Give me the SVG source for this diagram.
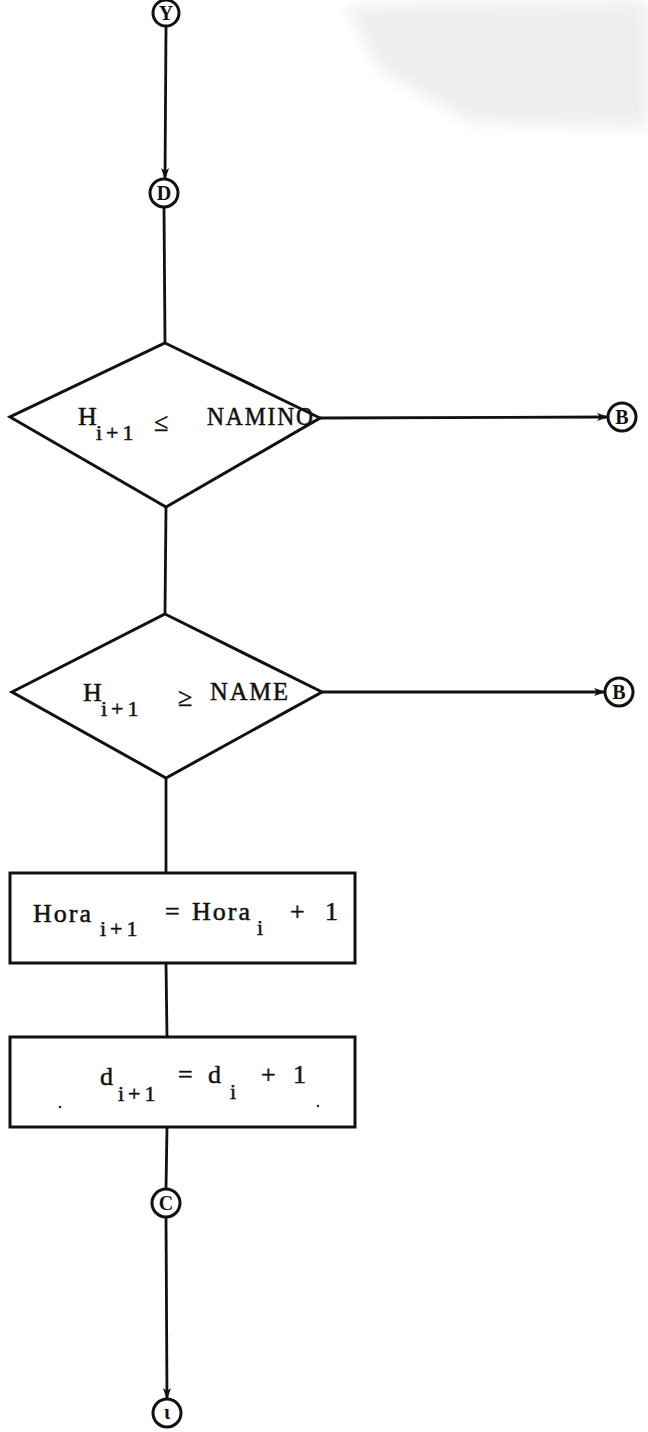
<svg xmlns="http://www.w3.org/2000/svg" width="648" height="1432" viewBox="0 0 648 1432">
  <defs>
    <marker id="arrow" viewBox="0 0 12 10" refX="11" refY="5" markerWidth="13" markerHeight="10" markerUnits="userSpaceOnUse" orient="auto">
      <path d="M0,1 L12,5 L0,9 L3,5 Z" fill="#111"/>
    </marker>
    <filter id="soft" x="-10%" y="-10%" width="120%" height="120%">
      <feGaussianBlur stdDeviation="8"/>
    </filter>
  </defs>
  <style>
    .shape { fill: #fff; stroke: #111; stroke-width: 3; stroke-linejoin: miter; }
    .conn { fill: none; stroke: #111; stroke-width: 2.8; }
    .lbl { font-family: "Liberation Serif", "DejaVu Serif", serif; fill: #111; stroke: #111; stroke-width: 0.5; letter-spacing: 2px; }
    .big { font-size: 26px; }
    .sub { font-size: 22px; letter-spacing: 4px; }
    .circ { font-family: "Liberation Serif", "DejaVu Serif", serif; font-size: 20px; font-weight: bold; fill: #111; text-anchor: middle; }
    .speck { fill: #222; }
  </style>

  <rect width="648" height="1432" fill="#fff"/>
  <!-- faint paper tone at the top right -->
  <path d="M345,6 L648,0 L648,128 L470,122 L380,70 Z" fill="#eeeeee" filter="url(#soft)"/>

  <!-- connectors -->
  <g id="connectors">
    <line class="conn" x1="166" y1="27" x2="165" y2="179" marker-end="url(#arrow)"/>
    <line class="conn" x1="164" y1="207" x2="165" y2="343"/>
    <line class="conn" x1="320" y1="418" x2="608" y2="417" marker-end="url(#arrow)"/>
    <line class="conn" x1="166" y1="507" x2="165" y2="614"/>
    <line class="conn" x1="322" y1="692" x2="605" y2="692" marker-end="url(#arrow)"/>
    <line class="conn" x1="166" y1="778" x2="166" y2="873"/>
    <line class="conn" x1="166" y1="963" x2="167" y2="1037"/>
    <line class="conn" x1="167" y1="1127" x2="166" y2="1189"/>
    <line class="conn" x1="166" y1="1217" x2="167" y2="1399" marker-end="url(#arrow)"/>
  </g>

  <!-- connector Y -->
  <g id="node-y">
    <circle class="shape" cx="166" cy="13" r="13" stroke-width="2.6"/>
    <text class="circ" x="166" y="20">Y</text>
  </g>

  <!-- connector D -->
  <g id="node-d">
    <circle class="shape" cx="164" cy="193" r="14" stroke-width="2.6"/>
    <text class="circ" x="164" y="200">D</text>
  </g>

  <!-- decision: H(i+1) <= NAMINO -->
  <g id="decision-namino">
    <polygon class="shape" points="165,343 320,418 166,507 10,417"/>
    <text class="lbl big" x="78" y="425">H</text>
    <text class="lbl sub" x="96" y="440">i+1</text>
    <text class="lbl big" x="154" y="431" letter-spacing="0">≤</text>
    <text class="lbl big" x="207" y="425" textLength="108" lengthAdjust="spacingAndGlyphs">NAMINO</text>
  </g>

  <!-- connector B (first) -->
  <g id="node-b1">
    <circle class="shape" cx="622" cy="417" r="14" stroke-width="2.6"/>
    <text class="circ" x="622" y="424">B</text>
  </g>

  <!-- decision: H(i+1) >= NAME -->
  <g id="decision-name">
    <polygon class="shape" points="165,614 322,692 166,778 12,692"/>
    <text class="lbl big" x="83" y="701">H</text>
    <text class="lbl sub" x="101" y="716">i+1</text>
    <text class="lbl big" x="178" y="706" letter-spacing="0">≥</text>
    <text class="lbl big" x="210" y="700" textLength="80" lengthAdjust="spacingAndGlyphs">NAME</text>
  </g>

  <!-- connector B (second) -->
  <g id="node-b2">
    <circle class="shape" cx="619" cy="692" r="14" stroke-width="2.6"/>
    <text class="circ" x="619" y="699">B</text>
  </g>

  <!-- process: Hora(i+1) = Hora(i) + 1 -->
  <g id="process-hora">
    <rect class="shape" x="10" y="873" width="345" height="90"/>
    <text class="lbl big" x="33" y="922">Hora</text>
    <text class="lbl sub" x="100" y="936">i+1</text>
    <text class="lbl big" x="165" y="920">=</text>
    <text class="lbl big" x="192" y="920">Hora</text>
    <text class="lbl sub" x="257" y="935">i</text>
    <text class="lbl big" x="290" y="920">+</text>
    <text class="lbl big" x="325" y="920">1</text>
  </g>

  <!-- process: d(i+1) = d(i) + 1 -->
  <g id="process-d">
    <rect class="shape" x="10" y="1037" width="345" height="90"/>
    <text class="lbl big" x="100" y="1085">d</text>
    <text class="lbl sub" x="118" y="1101">i+1</text>
    <text class="lbl big" x="178" y="1083">=</text>
    <text class="lbl big" x="208" y="1083">d</text>
    <text class="lbl sub" x="230" y="1099">i</text>
    <text class="lbl big" x="261" y="1083">+</text>
    <text class="lbl big" x="293" y="1083">1</text>
    <circle class="speck" cx="60" cy="1107" r="1.3"/>
    <circle class="speck" cx="318" cy="1106" r="1.2"/>
  </g>

  <!-- connector C -->
  <g id="node-c">
    <circle class="shape" cx="166" cy="1203" r="14" stroke-width="2.6"/>
    <text class="circ" x="166" y="1210">C</text>
  </g>

  <!-- end connector -->
  <g id="node-end">
    <circle class="shape" cx="167" cy="1413" r="14" stroke-width="2.6"/>
    <text class="circ" x="167" y="1419">ι</text>
  </g>
</svg>
